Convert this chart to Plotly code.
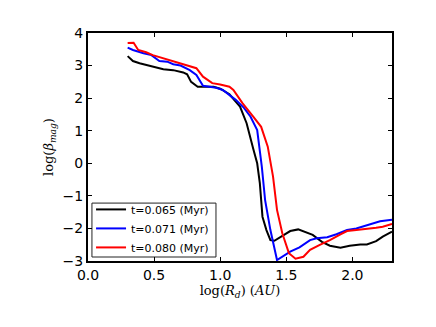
import plotly.graph_objects as go

# ---- data ----
black_x = [0.30, 0.34, 0.39, 0.44, 0.49, 0.57, 0.645, 0.72, 0.75, 0.78, 0.83, 0.95, 1.00, 1.07,
           1.15, 1.20, 1.25, 1.28, 1.30, 1.32, 1.35, 1.38, 1.41, 1.45, 1.53, 1.59, 1.64, 1.70,
           1.77, 1.83, 1.91, 1.98, 2.06, 2.11, 2.18, 2.23, 2.30]
black_y = [3.29, 3.14, 3.07, 3.02, 2.95, 2.89, 2.86, 2.79, 2.73, 2.50, 2.35, 2.35, 2.29, 2.12,
           1.74, 1.23, 0.45, 0.00, -0.61, -1.64, -2.05, -2.36, -2.38, -2.28, -2.08, -2.03, -2.10,
           -2.20, -2.41, -2.53, -2.59, -2.53, -2.49, -2.49, -2.39, -2.25, -2.10]

blue_x = [0.30, 0.34, 0.42, 0.48, 0.54, 0.60, 0.645, 0.70, 0.77, 0.82, 0.87, 0.97, 1.02, 1.07,
          1.12, 1.18, 1.23, 1.28, 1.30, 1.315, 1.34, 1.38, 1.43, 1.50, 1.53, 1.60, 1.68, 1.73,
          1.81, 1.88, 1.96, 2.03, 2.13, 2.21, 2.30]
blue_y = [3.55, 3.48, 3.38, 3.32, 3.14, 3.12, 3.04, 3.00, 2.86, 2.71, 2.38, 2.32, 2.25, 2.10,
          1.94, 1.70, 1.43, 1.02, 0.45, -0.10, -1.13, -2.05, -2.97, -2.80, -2.71, -2.58, -2.36,
          -2.30, -2.27, -2.18, -2.05, -2.00, -1.87, -1.78, -1.73]

red_x = [0.30, 0.345, 0.38, 0.44, 0.49, 0.57, 0.645, 0.72, 0.82, 0.87, 0.94, 1.00, 1.07, 1.10,
         1.17, 1.25, 1.31, 1.36, 1.39, 1.40, 1.43, 1.47, 1.52, 1.57, 1.63, 1.68, 1.75, 1.83,
         1.91, 1.96, 2.03, 2.11, 2.18, 2.23, 2.30]
red_y = [3.69, 3.70, 3.48, 3.41, 3.32, 3.22, 3.12, 3.04, 2.92, 2.66, 2.46, 2.42, 2.35, 2.25,
         1.84, 1.43, 1.12, 0.51, -0.20, -0.41, -1.43, -2.15, -2.76, -2.93, -2.87, -2.66, -2.51,
         -2.36, -2.18, -2.08, -2.05, -2.02, -1.98, -1.95, -1.86]

series_names = ["t=0.065 (Myr)", "t=0.071 (Myr)", "t=0.080 (Myr)"]
x_ticks = [0.0, 0.5, 1.0, 1.5, 2.0]
y_ticks = [-3, -2, -1, 0, 1, 2, 3, 4]

fig = go.Figure()
for xs, ys, name, col in [(black_x, black_y, series_names[0], "#000000"),
                          (blue_x, blue_y, series_names[1], "#0000ff"),
                          (red_x, red_y, series_names[2], "#ff0000")]:
    fig.add_trace(go.Scatter(x=xs, y=ys, mode="lines", name=name,
                             line=dict(color=col, width=2)))

axis_common = dict(showline=True, linecolor="black", linewidth=2, mirror="ticks",
                   ticks="inside", ticklen=4, tickwidth=1, tickcolor="black",
                   showgrid=False, zeroline=False, automargin=False,
                   tickfont=dict(family="DejaVu Sans", size=14, color="black"))

# legend frame drawn as a paper-space box
fig.add_shape(type="rect", xref="paper", yref="paper",
              x0=0.013, x1=0.421, y0=0.0175, y1=0.254,
              line=dict(color="#222222", width=1), fillcolor="white", layer="below")

# page body has an 8px default margin, so the figure is 8px smaller than the window
fig.update_layout(
    width=428, height=319,
    margin=dict(l=80, r=44, t=25, b=66),
    paper_bgcolor="white", plot_bgcolor="rgba(0,0,0,0)",
    showlegend=True,
    legend=dict(x=0.010, y=-0.004, xanchor="left", yanchor="bottom",
                bgcolor="rgba(0,0,0,0)", borderwidth=0,
                font=dict(family="DejaVu Sans", size=11, color="black"),
                itemwidth=30, tracegroupgap=0),
    xaxis=dict(range=[0, 2.3], tickvals=x_ticks, ticktext=[f"{v:.1f}" for v in x_ticks],
               title=dict(text="log(<i>R</i><sub><i>d</i></sub>) (<i>AU</i>)",
                          font=dict(family="DejaVu Serif", size=13, color="black"), standoff=1),
               **axis_common),
    yaxis=dict(range=[-3, 4], tickvals=y_ticks,
               ticktext=[("\u2212" + str(-v)) if v < 0 else str(v) for v in y_ticks],
               title=dict(text="log(<i>β</i><sub><i>mag</i></sub>)",
                          font=dict(family="DejaVu Serif", size=13, color="black"), standoff=6),
               **axis_common),
)

fig.write_html("out.html")
